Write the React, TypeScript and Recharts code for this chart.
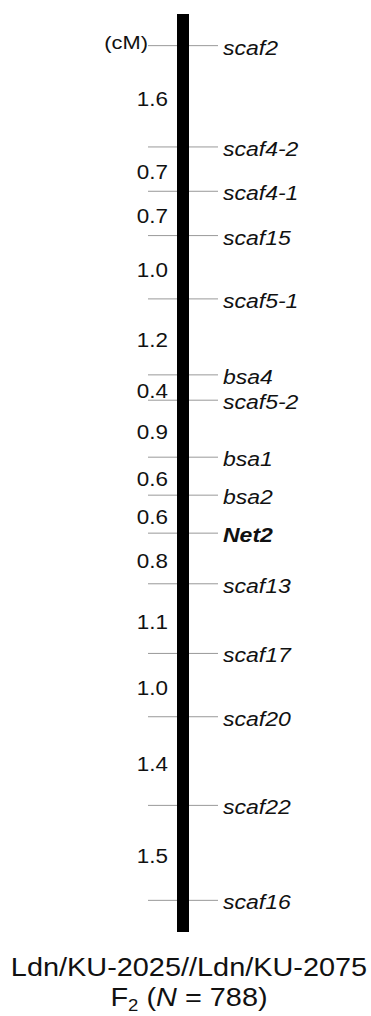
import React from 'react';
import { ScatterChart, Scatter, XAxis, YAxis, ReferenceArea } from 'recharts';

// Linkage map data (top to bottom)
const markers = ['scaf2', 'scaf4-2', 'scaf4-1', 'scaf15', 'scaf5-1', 'bsa4', 'scaf5-2', 'bsa1', 'bsa2', 'Net2', 'scaf13', 'scaf17', 'scaf20', 'scaf22', 'scaf16'];
const intervals = [1.6, 0.7, 0.7, 1.0, 1.2, 0.4, 0.9, 0.6, 0.6, 0.8, 1.1, 1.0, 1.4, 1.5];
const boldMarkers = ['Net2'];
const unitLabel = '(cM)';
const crossName = 'Ldn/KU-2025//Ldn/KU-2075';
const popSize = 788;

const FONT = '"Liberation Sans", Arial, Helvetica, sans-serif';
const CHROM_X = 183;
const HALF_W = 6;
const TICK_LEN = 29;

// cumulative map positions from the interval distances
const positions = intervals.reduce<number[]>((acc, d) => [...acc, Math.round((acc[acc.length - 1] + d) * 10) / 10], [0]);

const markerData = markers.map((name, i) => ({ x: CHROM_X, y: positions[i], name }));
const intervalData = intervals.map((d, i) => ({
  x: CHROM_X,
  y: (positions[i] + positions[i + 1]) / 2,
  label: d.toFixed(1),
}));

const chromTop = positions[0] - 0.5;
const chromBottom = positions[positions.length - 1] + 0.5;

const MarkerShape = (props: any) => {
  const { cx, cy, payload } = props;
  const bold = boldMarkers.includes(payload.name);
  return (
    <g>
      <line x1={cx - HALF_W - TICK_LEN} x2={cx - HALF_W} y1={cy} y2={cy} stroke="#999" strokeWidth={1} />
      <line x1={cx + HALF_W} x2={cx + HALF_W + TICK_LEN} y1={cy} y2={cy} stroke="#999" strokeWidth={1} />
      <text
        transform={`translate(${cx + HALF_W + TICK_LEN + 5} ${cy + 9}) scale(1.18 1)`}
        fontSize={19.5}
        fontStyle="italic"
        fontWeight={bold ? 'bold' : 'normal'}
        fontFamily={FONT}
        fill="#111"
      >
        {payload.name}
      </text>
      {payload.y === positions[0] && (
        <text
          transform={`translate(${cx - HALF_W - TICK_LEN} ${cy + 3}) scale(1.15 1)`}
          fontSize={19}
          textAnchor="end"
          fontFamily={FONT}
          fill="#111"
        >
          {unitLabel}
        </text>
      )}
    </g>
  );
};

const IntervalShape = (props: any) => {
  const { cx, cy, payload } = props;
  return (
    <text
      transform={`translate(${cx - 15} ${cy + 10}) scale(1.15 1)`}
      fontSize={19.5}
      textAnchor="end"
      fontFamily={FONT}
      fill="#111"
    >
      {payload.label}
    </text>
  );
};

export default function App() {
  return (
    <div style={{ position: 'absolute', left: 0, top: 0, width: 371, height: 1016, background: '#fff' }}>
      <ScatterChart width={371} height={940} margin={{ top: 14, right: 0, bottom: 8, left: 0 }}>
        <XAxis type="number" dataKey="x" domain={[0, 371]} hide />
        <YAxis type="number" dataKey="y" domain={[chromTop, chromBottom]} reversed hide />
        <ReferenceArea
          x1={CHROM_X - HALF_W}
          x2={CHROM_X + HALF_W}
          y1={chromTop}
          y2={chromBottom}
          fill="#000"
          fillOpacity={1}
          stroke="none"
        />
        <Scatter data={markerData} shape={<MarkerShape />} isAnimationActive={false} />
        <Scatter data={intervalData} shape={<IntervalShape />} isAnimationActive={false} />
      </ScatterChart>
      <svg width={371} height={76} style={{ position: 'absolute', left: 0, top: 940 }}>
        <g fontFamily={FONT} fontSize={26.5} fill="#111" textAnchor="middle">
          <text transform="translate(189 36) scale(1.09 1)">{crossName}</text>
          <text transform="translate(189 66) scale(1.09 1)">
            F<tspan fontSize={17} dy={5}>2</tspan>
            <tspan dy={-5}> (</tspan>
            <tspan fontStyle="italic">N</tspan> = {popSize})
          </text>
        </g>
      </svg>
    </div>
  );
}
